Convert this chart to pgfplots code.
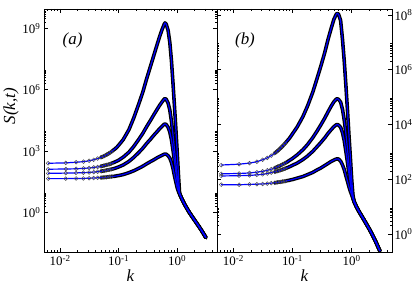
\documentclass[border=0pt]{standalone}
\usepackage{fontspec}
\setmainfont{Liberation Serif}
\usepackage{pgfplots}
\usepackage{pgfplotstable}
\pgfplotsset{compat=1.18}

% log10 S(k,t) values, panel (a)
\pgfplotstableread{
k a1 a2 a3 a4
0.00625 2.41 2.12 1.92 1.66
0.0125 2.43 2.13 1.93 1.66
0.01875 2.46 2.14 1.94 1.67
0.025 2.49 2.16 1.95 1.67
0.03125 2.53 2.18 1.96 1.68
0.0375 2.58 2.21 1.98 1.69
0.04375 2.64 2.23 2.00 1.70
0.05 2.70 2.26 2.02 1.71
0.05625 2.76 2.30 2.04 1.72
0.0625 2.83 2.33 2.07 1.73
0.06875 2.90 2.36 2.09 1.75
0.075 2.97 2.40 2.12 1.76
0.08125 3.05 2.44 2.14 1.77
0.0875 3.12 2.48 2.17 1.78
0.09375 3.20 2.52 2.20 1.80
0.1 3.29 2.56 2.23 1.81
0.12 3.57 2.71 2.33 1.86
0.15 4.05 2.95 2.50 1.95
0.18 4.60 3.22 2.69 2.04
0.22 5.29 3.57 2.93 2.16
0.26 5.90 3.88 3.15 2.27
0.3 6.52 4.19 3.37 2.38
0.35 7.14 4.50 3.58 2.49
0.4 7.68 4.78 3.78 2.58
0.45 8.16 5.02 3.94 2.67
0.5 8.58 5.23 4.09 2.74
0.55 8.92 5.40 4.21 2.80
0.6 9.19 5.54 4.31 2.85
0.62 9.26 5.57 4.33 2.86
0.65 9.20 5.53 4.30 2.85
0.7 8.90 5.35 4.17 2.78
0.75 8.30 5.00 3.93 2.66
0.8 7.40 4.45 3.55 2.45
0.85 6.30 3.80 3.05 2.15
0.9 5.20 3.10 2.50 1.80
0.95 4.10 2.45 2.00 1.50
1.0 3.00 1.80 1.52 1.22
1.05 1.90 1.28 1.13 1.04
1.1 0.94 0.93 0.92 0.92
1.15 0.80 0.80 0.80 0.80
1.2 0.68 0.68 0.68 0.68
1.3 0.48 0.48 0.48 0.48
1.4 0.31 0.31 0.31 0.31
1.6 0.03 0.03 0.03 0.03
1.8 -0.19 -0.19 -0.19 -0.19
2.0 -0.38 -0.38 -0.38 -0.38
2.3 -0.63 -0.63 -0.63 -0.63
2.6 -0.86 -0.86 -0.86 -0.86
3.0 -1.15 -1.15 -1.15 -1.15
3.1 -1.22 -1.22 -1.22 -1.22
}\tabA

% log10 S(k,t) values, panel (b)
\pgfplotstableread{
k b1 b2 b3 b4
0.00625 2.52 2.20 2.12 1.80
0.0125 2.55 2.21 2.13 1.80
0.01875 2.59 2.23 2.14 1.81
0.025 2.64 2.26 2.16 1.82
0.03125 2.71 2.29 2.18 1.83
0.0375 2.78 2.33 2.21 1.84
0.04375 2.86 2.37 2.24 1.86
0.05 2.95 2.41 2.27 1.87
0.05625 3.04 2.46 2.30 1.89
0.0625 3.13 2.50 2.33 1.90
0.06875 3.22 2.55 2.36 1.92
0.075 3.31 2.59 2.39 1.93
0.08125 3.40 2.63 2.42 1.95
0.0875 3.48 2.68 2.45 1.96
0.09375 3.57 2.72 2.48 1.98
0.1 3.66 2.76 2.51 1.99
0.12 3.91 2.89 2.59 2.04
0.15 4.29 3.08 2.72 2.10
0.18 4.68 3.27 2.85 2.17
0.22 5.18 3.52 3.02 2.25
0.26 5.68 3.76 3.19 2.34
0.3 6.12 3.98 3.34 2.41
0.35 6.62 4.23 3.51 2.50
0.4 7.12 4.47 3.68 2.58
0.45 7.51 4.67 3.81 2.65
0.5 7.84 4.83 3.92 2.70
0.55 8.03 4.93 3.99 2.74
0.57 8.06 4.94 4.00 2.74
0.6 8.03 4.92 3.98 2.74
0.65 7.80 4.82 3.90 2.66
0.7 7.10 4.55 3.70 2.52
0.75 6.30 4.15 3.40 2.35
0.8 5.40 3.65 3.00 2.12
0.85 4.50 3.10 2.60 1.92
0.9 3.60 2.55 2.20 1.72
0.95 2.80 2.05 1.85 1.56
1.0 2.00 1.64 1.54 1.43
1.05 1.42 1.34 1.32 1.30
1.1 1.18 1.18 1.18 1.18
1.2 1.00 1.00 1.00 1.00
1.3 0.86 0.86 0.86 0.86
1.4 0.74 0.74 0.74 0.74
1.6 0.53 0.53 0.53 0.53
1.8 0.34 0.34 0.34 0.34
2.0 0.17 0.17 0.17 0.17
2.3 -0.08 -0.08 -0.08 -0.08
2.6 -0.32 -0.32 -0.32 -0.32
3.0 -0.62 -0.62 -0.62 -0.62
}\tabB

\pgfplotsset{
  bandline/.style={black, line width=3.6pt, line cap=round, line join=round, skip coords between index={0}{7}},
  fineline/.style={blue, line width=1.2pt},
  circmarks/.style={only marks, mark=o, mark size=1.9pt, black!70, mark options={line width=0.5pt}, skip coords between index={12}{200}},
  mypanel/.style={
    scale only axis, height=243bp,
    log basis x=10, log basis y=10,
    xmin=0.0053, xmax=4.8,
    tick align=inside, major tick length=4.5bp, minor tick length=2.5bp,
    tick style={black, line width=0.6pt},
    axis line style={line width=0.8pt},
    xtick={0.01,0.1,1},
    minor xtick={0.006,0.007,0.008,0.009,0.02,0.03,0.04,0.05,0.06,0.07,0.08,0.09,0.2,0.3,0.4,0.5,0.6,0.7,0.8,0.9,2,3,4},
    xticklabel={10\textsuperscript{\pgfmathprintnumber[assume math mode=true,fixed,precision=0]{\tick}}},
    yticklabel={10\textsuperscript{\pgfmathprintnumber[assume math mode=true,fixed,precision=0]{\tick}}},
    tick label style={font=\fontsize{13}{15}\selectfont},
    xlabel={k},
    xlabel style={font=\fontsize{17}{19}\selectfont\itshape, at={(axis description cs:0.5,-0.07)}, anchor=north, inner sep=1pt},
  },
}

\begin{document}
\begin{tikzpicture}
\useasboundingbox (0,0) rectangle (415bp,290bp);

\begin{loglogaxis}[mypanel, width=173bp, at={(44bp,38bp)}, anchor=south west,
  ymin=0.012, ymax=8.7e9,
  ytick={1,1e3,1e6,1e9},
  minor ytick={2,3,4,5,6,7,8,9,2e3,3e3,4e3,5e3,6e3,7e3,8e3,9e3,2e6,3e6,4e6,5e6,6e6,7e6,8e6,9e6,2e9,3e9,4e9,5e9,6e9,7e9,8e9},
  ylabel={S(k,t)},
  ylabel style={font=\fontsize{17}{19}\selectfont\itshape, at={(axis description cs:-0.19,0.6)}, anchor=center},
]
\addplot[bandline] table[x=k, y expr={10^(\thisrow{a1})}] {\tabA};
\addplot[bandline] table[x=k, y expr={10^(\thisrow{a2})}] {\tabA};
\addplot[bandline] table[x=k, y expr={10^(\thisrow{a3})}] {\tabA};
\addplot[bandline] table[x=k, y expr={10^(\thisrow{a4})}] {\tabA};
\addplot[circmarks] table[x=k, y expr={10^(\thisrow{a1})}] {\tabA};
\addplot[circmarks] table[x=k, y expr={10^(\thisrow{a2})}] {\tabA};
\addplot[circmarks] table[x=k, y expr={10^(\thisrow{a3})}] {\tabA};
\addplot[circmarks] table[x=k, y expr={10^(\thisrow{a4})}] {\tabA};
\addplot[fineline] table[x=k, y expr={10^(\thisrow{a1})}] {\tabA};
\addplot[fineline] table[x=k, y expr={10^(\thisrow{a2})}] {\tabA};
\addplot[fineline] table[x=k, y expr={10^(\thisrow{a3})}] {\tabA};
\addplot[fineline] table[x=k, y expr={10^(\thisrow{a4})}] {\tabA};
\node[font=\fontsize{17}{19}\selectfont\itshape] at (axis description cs:0.165,0.87) {(a)};
\end{loglogaxis}

\begin{loglogaxis}[mypanel, width=175bp, at={(217bp,38bp)}, anchor=south west,
  ymin=0.22, ymax=1.66e8,
  ytick={1,1e2,1e4,1e6,1e8},
  minor ytick={2,3,4,5,6,7,8,9,200,300,400,500,600,700,800,900,2e4,3e4,4e4,5e4,6e4,7e4,8e4,9e4,2e6,3e6,4e6,5e6,6e6,7e6,8e6,9e6},
  yticklabel pos=right,
  yticklabel style={xshift=-1bp},
]
\addplot[bandline] table[x=k, y expr={10^(\thisrow{b1})}] {\tabB};
\addplot[bandline] table[x=k, y expr={10^(\thisrow{b2})}] {\tabB};
\addplot[bandline] table[x=k, y expr={10^(\thisrow{b3})}] {\tabB};
\addplot[bandline] table[x=k, y expr={10^(\thisrow{b4})}] {\tabB};
\addplot[circmarks] table[x=k, y expr={10^(\thisrow{b1})}] {\tabB};
\addplot[circmarks] table[x=k, y expr={10^(\thisrow{b2})}] {\tabB};
\addplot[circmarks] table[x=k, y expr={10^(\thisrow{b3})}] {\tabB};
\addplot[circmarks] table[x=k, y expr={10^(\thisrow{b4})}] {\tabB};
\addplot[fineline] table[x=k, y expr={10^(\thisrow{b1})}] {\tabB};
\addplot[fineline] table[x=k, y expr={10^(\thisrow{b2})}] {\tabB};
\addplot[fineline] table[x=k, y expr={10^(\thisrow{b3})}] {\tabB};
\addplot[fineline] table[x=k, y expr={10^(\thisrow{b4})}] {\tabB};
\node[font=\fontsize{17}{19}\selectfont\itshape] at (axis description cs:0.16,0.87) {(b)};
\end{loglogaxis}
\end{tikzpicture}
\end{document}
